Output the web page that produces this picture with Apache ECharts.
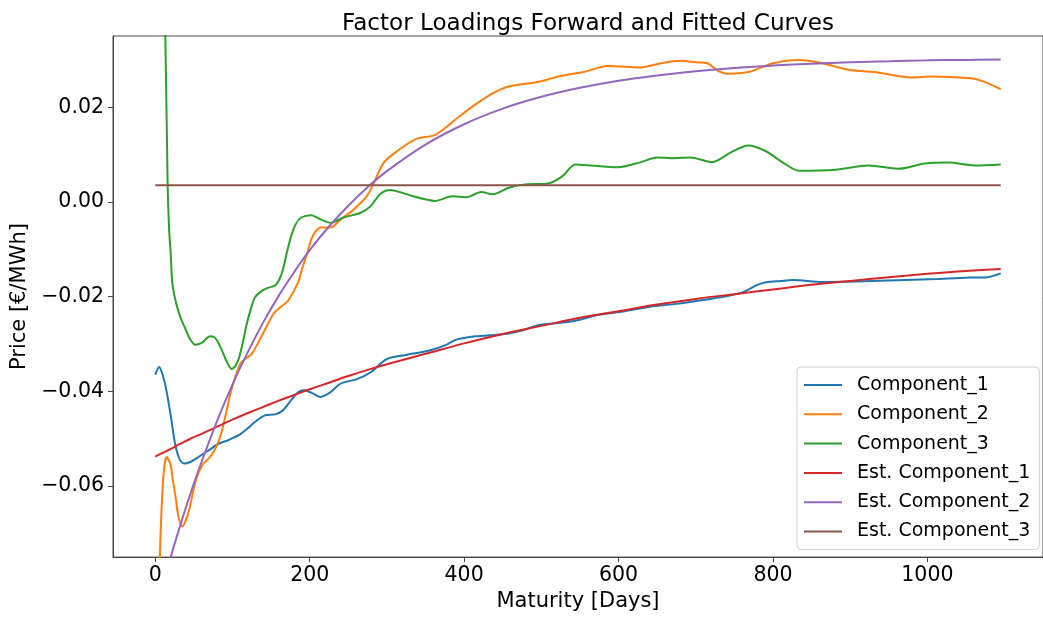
<!DOCTYPE html>
<html>
<head>
<meta charset="utf-8">
<script src="https://cdn.jsdelivr.net/npm/echarts@6/dist/echarts.min.js"></script>
<style>
html,body{margin:0;padding:0;background:#fff;}
#chart{width:1043px;height:617px;}
</style>
</head>
<body>
<div id="chart"></div>
<script>
// ---- data ----
const seriesNames = ["Component_1","Component_2","Component_3","Est. Component_1","Est. Component_2","Est. Component_3"];
const xTicks = [0,200,400,600,800,1000];
const yTicks = [-0.06,-0.04,-0.02,0.00,0.02];

const c1Days = [0,5,10,14,20,26,32,38,46,56,70,82,95,108,120,129,142,155,165,174,185,193,202,214,227,240,262,279,300,326,355,377,390,415,440,458,475,497,522,544,573,608,642,672,719,744,762,779,791,810,826,864,907,971,1014,1056,1078,1095];
const c1Vals = [-0.0365,-0.0349,-0.0368,-0.0395,-0.0451,-0.0514,-0.0545,-0.0553,-0.0549,-0.0539,-0.0524,-0.0511,-0.0503,-0.0493,-0.0478,-0.0465,-0.0451,-0.0449,-0.0441,-0.0423,-0.0402,-0.0398,-0.0403,-0.0412,-0.0402,-0.0384,-0.0374,-0.0360,-0.0332,-0.0323,-0.0314,-0.0302,-0.0291,-0.0284,-0.0281,-0.0278,-0.0272,-0.0260,-0.0256,-0.0251,-0.0239,-0.0231,-0.0221,-0.0216,-0.0205,-0.0198,-0.0190,-0.0176,-0.0170,-0.0167,-0.0165,-0.0169,-0.0168,-0.0165,-0.0163,-0.0160,-0.0159,-0.0151];

const c2Days = [0,3,6,9,12,15,18,20,23,26.5,30,35,39,44,52,61,71,80,86,91,99,110,118,125,138,153,164,172,185,190,197,202,208,214,227,240,257,274,283,296,313,338,360,373,394,420,440,458,497,522,556,586,629,655,680,700,715,727,740,770,800,834,864,898,937,979,1005,1056,1073,1095];
const c2Vals = [-0.14,-0.105,-0.075,-0.062,-0.0555,-0.0539,-0.0548,-0.0556,-0.0590,-0.0626,-0.0665,-0.0686,-0.0675,-0.0650,-0.0591,-0.0556,-0.0539,-0.0514,-0.0485,-0.0451,-0.0395,-0.0342,-0.0330,-0.0321,-0.0283,-0.0237,-0.0220,-0.0209,-0.0170,-0.0142,-0.0107,-0.0079,-0.0062,-0.0054,-0.0054,-0.0037,-0.0016,0.0012,0.0040,0.0083,0.0107,0.0133,0.0140,0.0153,0.0181,0.0212,0.0232,0.0244,0.0254,0.0265,0.0275,0.0287,0.0284,0.0293,0.0298,0.0295,0.0293,0.0279,0.0271,0.0275,0.0293,0.0300,0.0293,0.0279,0.0273,0.0263,0.0265,0.0261,0.0254,0.0238];

const c3Days = [0,5,10,13,16,18,20,22,25,29,34,39,45,52,60,66,71,76,80,86,91,99,104,108,113,118,124,129,138,147,155,160,165,170,176,182,189,202,214,227,244,266,279,291,304,320,334,351,362,385,403,422,437,458,479,509,527,544,565,599,629,650,668,693,721,745,768,791,813,834,881,924,962,997,1027,1061,1095];
const c3Vals = [0.09,0.072,0.050,0.035,0.004,-0.006,-0.011,-0.017,-0.020,-0.0226,-0.0250,-0.0268,-0.0290,-0.0302,-0.0298,-0.0289,-0.0284,-0.0285,-0.0293,-0.0312,-0.0332,-0.0353,-0.0346,-0.0332,-0.0300,-0.0261,-0.0225,-0.0202,-0.0188,-0.0181,-0.0177,-0.0166,-0.0145,-0.0110,-0.0072,-0.0047,-0.0033,-0.0028,-0.0037,-0.0044,-0.0033,-0.0023,-0.0009,0.0016,0.0025,0.0019,0.0012,0.0005,0.0002,0.0012,0.0010,0.0021,0.0016,0.0030,0.0037,0.0039,0.0054,0.0079,0.0077,0.0073,0.0084,0.0094,0.0092,0.0094,0.0084,0.0104,0.0119,0.0107,0.0083,0.0066,0.0068,0.0077,0.0070,0.0081,0.0083,0.0077,0.0079];

const estDays = [0,10,20,30,40,50,60,80,100,120,140,160,180,200,225,250,275,300,350,400,450,500,550,600,650,700,750,800,850,900,950,1000,1050,1095];
const est1Vals = [-0.0538,-0.0530,-0.0522,-0.0513,-0.0505,-0.0497,-0.0490,-0.0475,-0.0460,-0.0446,-0.0433,-0.0420,-0.0408,-0.0396,-0.0382,-0.0368,-0.0355,-0.0343,-0.0321,-0.0299,-0.0279,-0.0262,-0.0245,-0.0231,-0.0217,-0.0205,-0.0195,-0.0185,-0.0175,-0.0167,-0.0159,-0.0152,-0.0146,-0.0142];
const est2Vals = [-0.0868,-0.0808,-0.0750,-0.0696,-0.0644,-0.0595,-0.0549,-0.0463,-0.0386,-0.0317,-0.0254,-0.0198,-0.0148,-0.0102,-0.0052,-0.0008,0.0031,0.0065,0.0121,0.0164,0.0197,0.0222,0.0241,0.0256,0.0267,0.0276,0.0283,0.0288,0.0292,0.0295,0.0297,0.0299,0.0300,0.0301];
const est3Vals = [0.0035,0.0035,0.0035,0.0035,0.0035,0.0035,0.0035,0.0035,0.0035,0.0035,0.0035,0.0035,0.0035,0.0035,0.0035,0.0035,0.0035,0.0035,0.0035,0.0035,0.0035,0.0035,0.0035,0.0035,0.0035,0.0035,0.0035,0.0035,0.0035,0.0035,0.0035,0.0035,0.0035,0.0035];

const colors = ["#1f77b4","#ff7f0e","#2ca02c","#d62728","#9467bd","#8c564b"];

// ---- build chart ----
function zip(xs, ys){ return xs.map((x,i)=>[x, ys[i]]); }
const FONT = "DejaVu Sans";
const seriesData = [
  zip(c1Days,c1Vals), zip(c2Days,c2Vals), zip(c3Days,c3Vals),
  zip(estDays,est1Vals), zip(estDays,est2Vals), zip(estDays,est3Vals)
];
const series = seriesNames.map((n,i)=>({
  name:n, type:'line', data:seriesData[i], showSymbol:false, symbol:'none',
  smooth: i<3 ? 0.3 : 0.4, clip:true, animation:false,
  lineStyle:{color:colors[i], width:2}, itemStyle:{color:colors[i]}
}));

const fmt = v => (v<0 ? '\u2212' : '') + Math.abs(v).toFixed(2);

const chart = echarts.init(document.getElementById('chart'), null, {renderer:'canvas'});
chart.setOption({
  backgroundColor:'#fff',
  animation:false,
  color:colors,
  title:{text:'Factor Loadings Forward and Fitted Curves', left:583, textAlign:'center', top:7,
    textStyle:{fontFamily:FONT, fontSize:23.1, fontWeight:'normal', color:'#000'}},
  grid:{left:113, top:36, right:-10, bottom:58, show:true, borderColor:'#444', borderWidth:1, backgroundColor:'transparent'},
  legend:{
    orient:'vertical', left:797, top:367,
    data:seriesNames, icon:'rect', itemWidth:38, itemHeight:2, itemGap:9.3,
    padding:[8,9,8,7],
    backgroundColor:'rgba(255,255,255,0.8)', borderColor:'#d0d0d0', borderWidth:1, borderRadius:4,
    textStyle:{fontFamily:FONT, fontSize:19, color:'#000', lineHeight:20, padding:[0,0,0,10]}
  },
  xAxis:{
    type:'value', min:-54.75, max:1149.75,
    name:'Maturity [Days]', nameLocation:'middle', nameGap:33,
    nameTextStyle:{fontFamily:FONT, fontSize:21, color:'#000'},
    axisLine:{show:true, onZero:false, lineStyle:{color:'#444', width:1}},
    axisTick:{show:true, inside:false, length:5, customValues:xTicks, lineStyle:{color:'#444'}},
    axisLabel:{customValues:xTicks, margin:8, fontFamily:FONT, fontSize:20.5, color:'#000', formatter:v=>String(v)},
    splitLine:{show:false}
  },
  yAxis:{
    type:'value', min:-0.07505, max:0.03505,
    name:'Price [€/MWh]', nameLocation:'middle', nameGap:76,
    nameTextStyle:{fontFamily:FONT, fontSize:21, color:'#000'},
    axisLine:{show:true, onZero:false, lineStyle:{color:'#444', width:1}},
    axisTick:{show:true, inside:false, length:5, customValues:yTicks, lineStyle:{color:'#444'}},
    axisLabel:{customValues:yTicks, margin:9, fontFamily:FONT, fontSize:20.5, color:'#000', formatter:fmt},
    splitLine:{show:false}
  },
  series:series
});
</script>
</body>
</html>
